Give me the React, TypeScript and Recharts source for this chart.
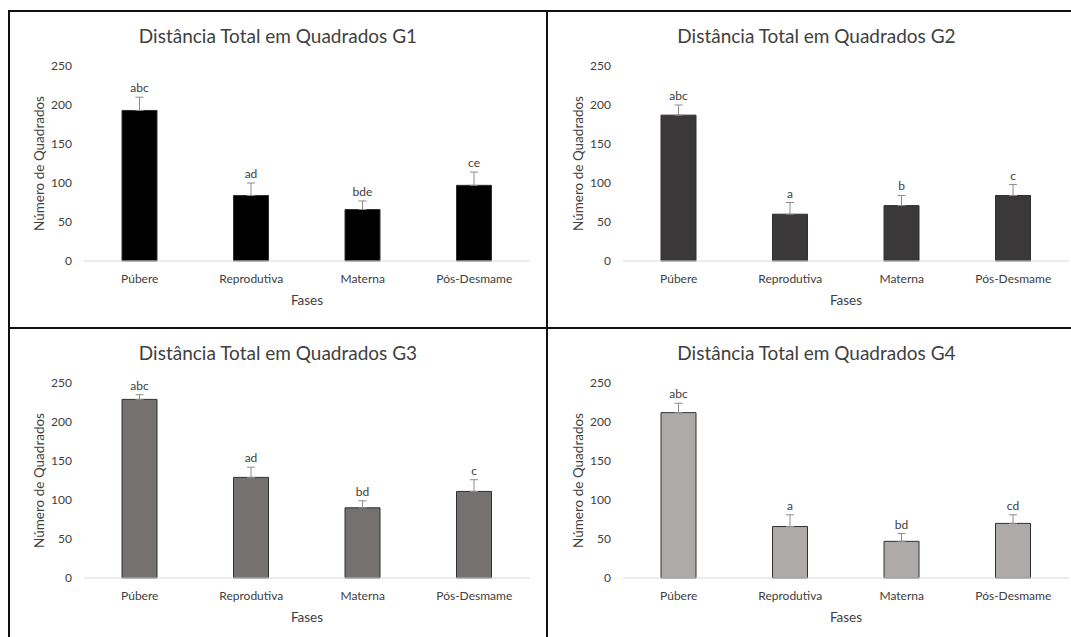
import { BarChart, Bar, XAxis, YAxis, ErrorBar, LabelList, Label } from "recharts";

// fases do ciclo avaliadas
const fases = ["Púbere", "Reprodutiva", "Materna", "Pós-Desmame"];
const ticksY = [0, 50, 100, 150, 200, 250];

// média e erro padrão por grupo
const mediaG1 = [193, 84, 66, 97];
const erroG1 = [17, 16, 11, 17];
const letrasG1 = ["abc", "ad", "bde", "ce"];

const mediaG2 = [187, 60, 71, 84];
const erroG2 = [13, 15, 13, 14];
const letrasG2 = ["abc", "a", "b", "c"];

const mediaG3 = [229, 129, 90, 111];
const erroG3 = [6, 13, 9, 15];
const letrasG3 = ["abc", "ad", "bd", "c"];

const mediaG4 = [212, 66, 47, 70];
const erroG4 = [12, 15, 10, 11];
const letrasG4 = ["abc", "a", "bd", "cd"];

const FONTE = "Lato, 'Open Sans', sans-serif";
const TEXTO = "#404040";
const LARG = 538;
const ALT = 317;

interface Linha {
  fase: string;
  media: number;
  erro: [number, number];
  letra: string;
}

const montar = (media: number[], erro: number[], letras: string[]): Linha[] =>
  fases.map((fase, i) => ({
    fase,
    media: media[i],
    erro: [0, erro[i]],
    letra: letras[i],
  }));

const Grafico = ({
  titulo,
  linhas,
  cor,
  left,
  top,
}: {
  titulo: string;
  linhas: Linha[];
  cor: string;
  left: number;
  top: number;
}) => {
  // letra acima da barra de erro: altura do erro proporcional à barra
  const letra = (p: any) => {
    const { x, y, width, height, index } = p;
    const l = linhas[index];
    if (!l) return null;
    const erroPx = (height * l.erro[1]) / l.media;
    return (
      <text
        x={x + width / 2}
        y={y - erroPx - 5}
        textAnchor="middle"
        fontSize={12}
        fontFamily={FONTE}
        fill={TEXTO}
      >
        {l.letra}
      </text>
    );
  };

  return (
    <div style={{ position: "absolute", left, top, width: LARG, height: ALT }}>
      <div
        style={{
          position: "absolute",
          left: 0,
          top: 15,
          width: LARG,
          textAlign: "center",
          fontFamily: FONTE,
          fontSize: 19,
          lineHeight: "22px",
          color: TEXTO,
        }}
      >
        {titulo}
      </div>
      <BarChart
        width={LARG}
        height={ALT}
        data={linhas}
        margin={{ top: 56, right: 17, bottom: 0, left: 0 }}
        style={{ position: "absolute", left: 0, top: 0 }}
      >
        <XAxis
          dataKey="fase"
          height={66}
          interval={0}
          axisLine={{ stroke: "#d9d9d9" }}
          tickLine={false}
          tickSize={0}
          tickMargin={13}
          tick={{ fill: TEXTO, fontSize: 12, fontFamily: FONTE }}
        >
          <Label
            content={(p: any) => {
              const vb = p.viewBox;
              return (
                <text
                  x={vb.x + vb.width / 2}
                  y={vb.y + 44}
                  textAnchor="middle"
                  fontSize={13.5}
                  fontFamily={FONTE}
                  fill={TEXTO}
                >
                  Fases
                </text>
              );
            }}
          />
        </XAxis>
        <YAxis
          domain={[0, 250]}
          ticks={ticksY}
          width={75}
          axisLine={false}
          tickLine={false}
          tickSize={0}
          tickMargin={12}
          tick={{ fill: TEXTO, fontSize: 12, fontFamily: FONTE }}
        >
          <Label
            content={(p: any) => {
              const vb = p.viewBox;
              const cx = vb.x + 29.6;
              const cy = vb.y + vb.height / 2;
              return (
                <text
                  x={cx}
                  y={cy}
                  transform={`rotate(-90 ${cx} ${cy})`}
                  textAnchor="middle"
                  dominantBaseline="central"
                  fontSize={13.5}
                  fontFamily={FONTE}
                  fill={TEXTO}
                >
                  Número de Quadrados
                </text>
              );
            }}
          />
        </YAxis>
        <Bar
          dataKey="media"
          fill={cor}
          stroke="#303030"
          strokeWidth={1}
          barSize={35}
          isAnimationActive={false}
        >
          <ErrorBar dataKey="erro" direction="y" width={4} stroke="#8c8c8c" strokeWidth={1} />
          <LabelList dataKey="media" content={letra} />
        </Bar>
      </BarChart>
    </div>
  );
};

const linha = (style: React.CSSProperties) => (
  <div style={{ position: "absolute", background: "#111", ...style }} />
);

export default function App() {
  return (
    <div
      style={{
        position: "absolute",
        left: 0,
        top: 0,
        width: 1071,
        height: 637,
        overflow: "hidden",
        background: "#fff",
      }}
    >
      <Grafico titulo="Distância Total em Quadrados G1" linhas={montar(mediaG1, erroG1, letrasG1)} cor="#000000" left={9} top={10} />
      <Grafico titulo="Distância Total em Quadrados G2" linhas={montar(mediaG2, erroG2, letrasG2)} cor="#3a3838" left={547.5} top={10} />
      <Grafico titulo="Distância Total em Quadrados G3" linhas={montar(mediaG3, erroG3, letrasG3)} cor="#767171" left={9} top={327} />
      <Grafico titulo="Distância Total em Quadrados G4" linhas={montar(mediaG4, erroG4, letrasG4)} cor="#aeaaaa" left={547.5} top={327} />
      {/* moldura dos quatro painéis */}
      {linha({ left: 8, top: 10, width: 1063, height: 2 })}
      {linha({ left: 8, top: 10, width: 2, height: 627 })}
      {linha({ left: 546, top: 10, width: 2, height: 627 })}
      {linha({ left: 8, top: 327, width: 1063, height: 2 })}
    </div>
  );
}
